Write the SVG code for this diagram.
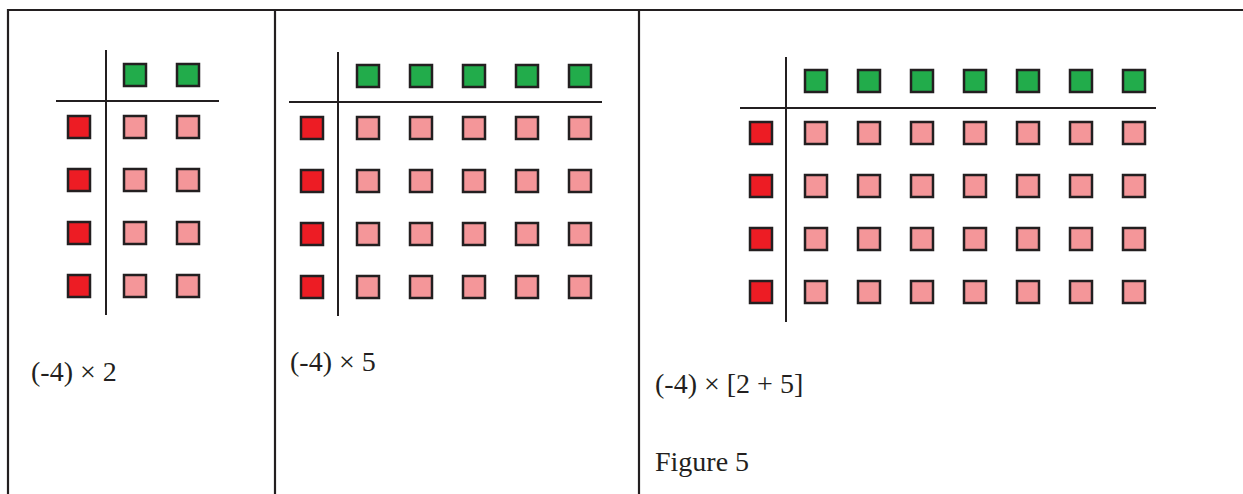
<svg xmlns="http://www.w3.org/2000/svg" width="1243" height="494" viewBox="0 0 1243 494">
<style>
.frame{stroke:#231f20;stroke-width:2.2;fill:none}
.axis{stroke:#231f20;stroke-width:2;fill:none}
.sq{stroke:#231f20;stroke-width:2.5}
.g{fill:#22ac4b}
.r{fill:#ed1c24}
.p{fill:#f49699}
.lbl{font-family:"Liberation Serif",serif;font-size:28px;fill:#231f20}
</style>
<rect width="1243" height="494" fill="#fff"/>
<g id="frame">
<line class="frame" x1="8" y1="10" x2="1243" y2="10"/>
<line class="frame" x1="8" y1="9" x2="8" y2="494"/>
<line class="frame" x1="275" y1="10" x2="275" y2="494"/>
<line class="frame" x1="639" y1="10" x2="639" y2="494"/>
</g>
<g id="connectors">
<line class="axis" x1="106" y1="50" x2="106" y2="315"/>
<line class="axis" x1="56" y1="101" x2="219" y2="101"/>
<line class="axis" x1="338" y1="52" x2="338" y2="316"/>
<line class="axis" x1="289" y1="102" x2="602" y2="102"/>
<line class="axis" x1="786" y1="57" x2="786" y2="322"/>
<line class="axis" x1="740" y1="108" x2="1156" y2="108"/>
</g>
<g id="panel1">
<rect class="sq g" x="124" y="64" width="22" height="22"/>
<rect class="sq g" x="177" y="64" width="22" height="22"/>
<rect class="sq r" x="68" y="116" width="22" height="22"/>
<rect class="sq r" x="68" y="169" width="22" height="22"/>
<rect class="sq r" x="68" y="222" width="22" height="22"/>
<rect class="sq r" x="68" y="275" width="22" height="22"/>
<rect class="sq p" x="124" y="116" width="22" height="22"/>
<rect class="sq p" x="177" y="116" width="22" height="22"/>
<rect class="sq p" x="124" y="169" width="22" height="22"/>
<rect class="sq p" x="177" y="169" width="22" height="22"/>
<rect class="sq p" x="124" y="222" width="22" height="22"/>
<rect class="sq p" x="177" y="222" width="22" height="22"/>
<rect class="sq p" x="124" y="275" width="22" height="22"/>
<rect class="sq p" x="177" y="275" width="22" height="22"/>
<text class="lbl" x="31" y="381">(-4) × 2</text>
</g>
<g id="panel2">
<rect class="sq g" x="357" y="65" width="22" height="22"/>
<rect class="sq g" x="410" y="65" width="22" height="22"/>
<rect class="sq g" x="463" y="65" width="22" height="22"/>
<rect class="sq g" x="516" y="65" width="22" height="22"/>
<rect class="sq g" x="569" y="65" width="22" height="22"/>
<rect class="sq r" x="301" y="117" width="22" height="22"/>
<rect class="sq r" x="301" y="170" width="22" height="22"/>
<rect class="sq r" x="301" y="223" width="22" height="22"/>
<rect class="sq r" x="301" y="276" width="22" height="22"/>
<rect class="sq p" x="357" y="117" width="22" height="22"/>
<rect class="sq p" x="410" y="117" width="22" height="22"/>
<rect class="sq p" x="463" y="117" width="22" height="22"/>
<rect class="sq p" x="516" y="117" width="22" height="22"/>
<rect class="sq p" x="569" y="117" width="22" height="22"/>
<rect class="sq p" x="357" y="170" width="22" height="22"/>
<rect class="sq p" x="410" y="170" width="22" height="22"/>
<rect class="sq p" x="463" y="170" width="22" height="22"/>
<rect class="sq p" x="516" y="170" width="22" height="22"/>
<rect class="sq p" x="569" y="170" width="22" height="22"/>
<rect class="sq p" x="357" y="223" width="22" height="22"/>
<rect class="sq p" x="410" y="223" width="22" height="22"/>
<rect class="sq p" x="463" y="223" width="22" height="22"/>
<rect class="sq p" x="516" y="223" width="22" height="22"/>
<rect class="sq p" x="569" y="223" width="22" height="22"/>
<rect class="sq p" x="357" y="276" width="22" height="22"/>
<rect class="sq p" x="410" y="276" width="22" height="22"/>
<rect class="sq p" x="463" y="276" width="22" height="22"/>
<rect class="sq p" x="516" y="276" width="22" height="22"/>
<rect class="sq p" x="569" y="276" width="22" height="22"/>
<text class="lbl" x="290" y="371">(-4) × 5</text>
</g>
<g id="panel3">
<rect class="sq g" x="805" y="70" width="22" height="22"/>
<rect class="sq g" x="858" y="70" width="22" height="22"/>
<rect class="sq g" x="911" y="70" width="22" height="22"/>
<rect class="sq g" x="964" y="70" width="22" height="22"/>
<rect class="sq g" x="1017" y="70" width="22" height="22"/>
<rect class="sq g" x="1070" y="70" width="22" height="22"/>
<rect class="sq g" x="1123" y="70" width="22" height="22"/>
<rect class="sq r" x="750" y="122" width="22" height="22"/>
<rect class="sq r" x="750" y="175" width="22" height="22"/>
<rect class="sq r" x="750" y="228" width="22" height="22"/>
<rect class="sq r" x="750" y="281" width="22" height="22"/>
<rect class="sq p" x="805" y="122" width="22" height="22"/>
<rect class="sq p" x="858" y="122" width="22" height="22"/>
<rect class="sq p" x="911" y="122" width="22" height="22"/>
<rect class="sq p" x="964" y="122" width="22" height="22"/>
<rect class="sq p" x="1017" y="122" width="22" height="22"/>
<rect class="sq p" x="1070" y="122" width="22" height="22"/>
<rect class="sq p" x="1123" y="122" width="22" height="22"/>
<rect class="sq p" x="805" y="175" width="22" height="22"/>
<rect class="sq p" x="858" y="175" width="22" height="22"/>
<rect class="sq p" x="911" y="175" width="22" height="22"/>
<rect class="sq p" x="964" y="175" width="22" height="22"/>
<rect class="sq p" x="1017" y="175" width="22" height="22"/>
<rect class="sq p" x="1070" y="175" width="22" height="22"/>
<rect class="sq p" x="1123" y="175" width="22" height="22"/>
<rect class="sq p" x="805" y="228" width="22" height="22"/>
<rect class="sq p" x="858" y="228" width="22" height="22"/>
<rect class="sq p" x="911" y="228" width="22" height="22"/>
<rect class="sq p" x="964" y="228" width="22" height="22"/>
<rect class="sq p" x="1017" y="228" width="22" height="22"/>
<rect class="sq p" x="1070" y="228" width="22" height="22"/>
<rect class="sq p" x="1123" y="228" width="22" height="22"/>
<rect class="sq p" x="805" y="281" width="22" height="22"/>
<rect class="sq p" x="858" y="281" width="22" height="22"/>
<rect class="sq p" x="911" y="281" width="22" height="22"/>
<rect class="sq p" x="964" y="281" width="22" height="22"/>
<rect class="sq p" x="1017" y="281" width="22" height="22"/>
<rect class="sq p" x="1070" y="281" width="22" height="22"/>
<rect class="sq p" x="1123" y="281" width="22" height="22"/>
<text class="lbl" x="655" y="393">(-4) × [2 + 5]</text>
<text class="lbl" x="655" y="471">Figure 5</text>
</g>
</svg>
